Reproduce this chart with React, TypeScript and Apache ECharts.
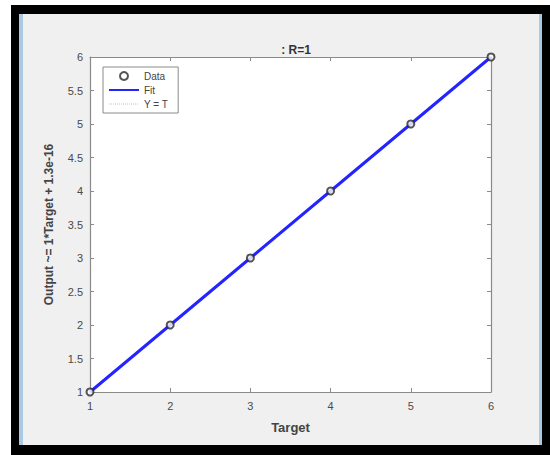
import React, { useEffect, useRef } from "react";
import * as echarts from "echarts";

const targets = [1, 2, 3, 4, 5, 6];
const outputs = [1, 2, 3, 4, 5, 6];
const fitValues = [1, 2, 3, 4, 5, 6];
const identityValues = [1, 2, 3, 4, 5, 6];
const titleText = ": R=1";
const xName = "Target";
const yName = "Output ~= 1*Target + 1.3e-16";

export default function App() {
  const ref = useRef<HTMLDivElement>(null);
  useEffect(() => {
    if (!ref.current) return;
    const chart = echarts.init(ref.current, undefined, { renderer: "svg" });
    const font = "Liberation Sans, Arial, sans-serif";
    const axisLine = { show: true, lineStyle: { color: "#8a8a8a", width: 1.2 } };
    const tick = { show: true, inside: true, length: 4, lineStyle: { color: "#8a8a8a" } };
    const label = { color: "#4a4a4a", fontSize: 11, fontFamily: font };
    const hidden = { color: "transparent", borderColor: "transparent", opacity: 0 };
    chart.setOption({
      animation: false,
      backgroundColor: "#ffffff",
      graphic: [
        { type: "rect", z: -10, shape: { x: 11, y: 5, width: 539, height: 450 }, style: { fill: "#000000" } },
        { type: "rect", z: -9, shape: { x: 19, y: 14, width: 523, height: 431 }, style: { fill: "#a9c9e4" } },
        { type: "rect", z: -8, shape: { x: 23, y: 14, width: 516, height: 431 }, style: { fill: "#f0f0f0" } },
        { type: "rect", z: -7, shape: { x: 90, y: 57, width: 401, height: 335 }, style: { fill: "#ffffff" } },
      ],
      title: {
        text: titleText,
        left: 291,
        textAlign: "center",
        top: 39,
        textStyle: { fontSize: 12, fontWeight: "bold", color: "#333", fontFamily: font },
      },
      legend: {
        orient: "vertical",
        left: 103,
        top: 67,
        padding: [4, 10, 4, 5],
        itemGap: 4,
        itemWidth: 30,
        itemHeight: 8,
        backgroundColor: "#ffffff",
        borderColor: "#8a8a8a",
        borderWidth: 1,
        textStyle: { fontSize: 10, color: "#444", fontFamily: font },
        data: [
          { name: "Data", icon: "emptyCircle" },
          { name: "Fit", itemStyle: hidden },
          { name: "Y = T", itemStyle: hidden, lineStyle: { color: "#c4c4c4", type: "dotted", width: 1 } },
        ],
      },
      grid: { left: 90, top: 57, width: 401, height: 335, containLabel: false },
      xAxis: [
        {
          type: "value",
          min: 1,
          max: 6,
          interval: 1,
          name: xName,
          nameLocation: "middle",
          nameGap: 29,
          nameTextStyle: { fontSize: 13, fontWeight: "bold", color: "#444", fontFamily: font },
          axisLine,
          axisTick: tick,
          axisLabel: { ...label, margin: 8 },
          splitLine: { show: false },
        },
        {
          type: "value",
          position: "top",
          min: 1,
          max: 6,
          interval: 1,
          axisLine,
          axisTick: tick,
          axisLabel: { show: false },
          splitLine: { show: false },
        },
      ],
      yAxis: [
        {
          type: "value",
          min: 1,
          max: 6,
          interval: 0.5,
          name: yName,
          nameLocation: "middle",
          nameGap: 35,
          nameRotate: 90,
          nameTextStyle: { fontSize: 12, fontWeight: "bold", color: "#444", fontFamily: font },
          axisLine,
          axisTick: tick,
          axisLabel: { ...label, margin: 7 },
          splitLine: { show: false },
        },
        {
          type: "value",
          position: "right",
          min: 1,
          max: 6,
          interval: 0.5,
          axisLine,
          axisTick: tick,
          axisLabel: { show: false },
          splitLine: { show: false },
        },
      ],
      series: [
        {
          name: "Y = T",
          type: "line",
          data: targets.map((t, i) => [t, identityValues[i]]),
          symbol: "none",
          lineStyle: { color: "#b0b0b0", width: 1, type: "dotted" },
          itemStyle: { color: "#b0b0b0" },
          z: 1,
        },
        {
          name: "Fit",
          type: "line",
          data: targets.map((t, i) => [t, fitValues[i]]),
          symbol: "none",
          lineStyle: { color: "#2424ff", width: 3 },
          itemStyle: { color: "#2424ff" },
          z: 2,
        },
        {
          name: "Data",
          type: "scatter",
          data: targets.map((t, i) => [t, outputs[i]]),
          symbol: "emptyCircle",
          symbolSize: 7,
          itemStyle: { color: "#2a2a2a", borderColor: "#2a2a2a", borderWidth: 1.5 },
          z: 3,
        },
      ],
    });
    return () => chart.dispose();
  }, []);
  return (
    <div
      ref={ref}
      style={{ position: "absolute", left: 0, top: 0, width: 550, height: 455 }}
    />
  );
}
